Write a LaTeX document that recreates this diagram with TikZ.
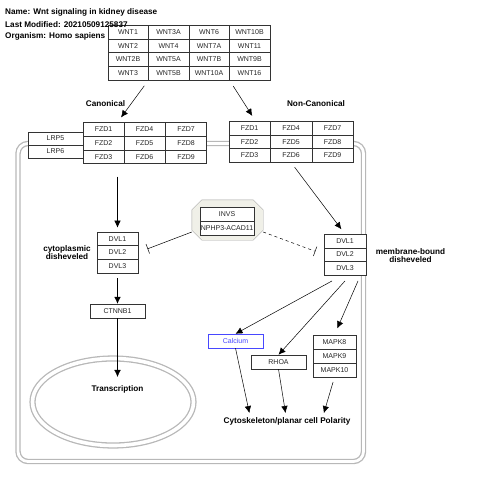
\documentclass[tikz,border=0pt]{standalone}
\usepackage{fontspec}
\setmainfont{Liberation Sans}
\usetikzlibrary{arrows,arrows.meta,shapes,calc}
\definecolor{calciumblue}{RGB}{72,72,255}
\definecolor{octfill}{RGB}{240,240,232}
\tikzstyle{gene}=[draw=black!80,fill=white,text=black!85,font=\fontsize{7}{8}\selectfont,minimum width=41pt,minimum height=13.7pt,inner sep=0pt]
\tikzstyle{boldtext}=[font=\fontsize{8.2}{9.5}\selectfont\bfseries,inner sep=1pt,align=center]
\tikzstyle{pedge}=[draw,line width=0.5pt,-{Latex[length=7pt,width=6.5pt]}]
\tikzstyle{inhibit}=[draw,line width=0.5pt,-{Bar[width=10pt]}]
\tikzstyle{membrane}=[draw=black!28,line width=1.3pt,double=white,double distance=2.8pt]

\begin{document}
\begin{tikzpicture}[x=1pt,y=-1pt]
    \useasboundingbox (0,0) rectangle (480,486);

    % cell and nucleus
    \path[membrane,rounded corners=10pt] (18,143.5) rectangle (363.5,461.5);
    \path[membrane,double distance=3.6pt] (113,402) ellipse (80.5pt and 43.5pt);

    % WNT ligands
    \foreach \pos/ \name in {{(128,31.9)/WNT1},{(168.5,31.9)/WNT3A},{(209,31.9)/WNT6},{(249.5,31.9)/WNT10B},
                             {(128,45.6)/WNT2},{(168.5,45.6)/WNT4},{(209,45.6)/WNT7A},{(249.5,45.6)/WNT11},
                             {(128,59.4)/WNT2B},{(168.5,59.4)/WNT5A},{(209,59.4)/WNT7B},{(249.5,59.4)/WNT9B},
                             {(128,73.1)/WNT3},{(168.5,73.1)/WNT5B},{(209,73.1)/WNT10A},{(249.5,73.1)/WNT16}}
        \node[gene,minimum width=40.5pt,minimum height=13.75pt] (\name) at \pos {\name};

    % receptors, canonical side
    \foreach \pos/ \n in {{(103.5,129.3)/1},{(103.5,143)/2},{(103.5,156.7)/3},
                          {(144.5,129.3)/4},{(144.5,143)/5},{(144.5,156.7)/6},
                          {(186,129.3)/7},{(186,143)/8},{(186,156.7)/9}}
        \node[gene] (cFZD\n) at \pos {FZD\n};
    \foreach \pos/ \name in {{(55.5,138.5)/LRP5},{(55.5,151.5)/LRP6}}
        \node[gene,minimum width=55pt,minimum height=13pt] (\name) at \pos {\name};

    % receptors, non-canonical side
    \foreach \pos/ \n in {{(249.5,128)/1},{(249.5,141.7)/2},{(249.5,155.4)/3},
                          {(291,128)/4},{(291,141.7)/5},{(291,155.4)/6},
                          {(332.5,128)/7},{(332.5,141.7)/8},{(332.5,155.4)/9}}
        \node[gene,minimum width=41.5pt] (rFZD\n) at \pos {FZD\n};

    % disheveled
    \foreach \pos/ \n in {{(117.5,238.7)/1},{(117.5,252.4)/2},{(117.5,266.1)/3}}
        \node[gene] (lDVL\n) at \pos {DVL\n};
    \foreach \pos/ \n in {{(345,241)/1},{(345,254.5)/2},{(345,268)/3}}
        \node[gene,minimum width=42pt,minimum height=13.5pt] (rDVL\n) at \pos {DVL\n};

    % inversin complex
    \node[minimum width=71pt,minimum height=40pt,inner sep=0pt] (octo) at (227.5,220) {};
    \draw[draw=black!35,fill=octfill] ($(octo.north west)+(10,0)$) -- ($(octo.north east)+(-10,0)$)
        -- ($(octo.north east)+(0,10)$) -- ($(octo.south east)+(0,-10)$)
        -- ($(octo.south east)+(-10,0)$) -- ($(octo.south west)+(10,0)$)
        -- ($(octo.south west)+(0,-10)$) -- ($(octo.north west)+(0,10)$) -- cycle;
    \node[gene,minimum width=54pt] (INVS) at (227,214.5) {INVS};
    \node[gene,minimum width=54pt] (NPHP3) at (227,228.2) {NPHP3-ACAD11};

    % downstream
    \node[gene,minimum width=55pt,minimum height=14pt] (CTNNB1) at (117.5,311) {CTNNB1};
    \node[gene,minimum width=55pt,minimum height=14pt,draw=calciumblue,text=calciumblue] (Calcium) at (235.5,341) {Calcium};
    \node[gene,minimum width=55pt,minimum height=14pt] (RHOA) at (278.5,362) {RHOA};
    \foreach \pos/ \n in {{(334.5,342)/8},{(334.5,356)/9},{(334.5,370)/10}}
        \node[gene,minimum width=43pt,minimum height=14pt] (MAPK\n) at \pos {MAPK\n};

    % labels
    \node[boldtext,anchor=west] (name) at (4,12.5) {Name: Wnt signaling in kidney disease};
    \node[boldtext,anchor=west] (modified) at (4,24.5) {Last Modified: 20210509125837};
    \node[boldtext,anchor=west] (organism) at (4,36.5) {Organism: Homo sapiens};
    \node[boldtext] (canon) at (105.5,104) {Canonical};
    \node[boldtext] (noncanon) at (316,104) {Non-Canonical};
    \node[boldtext] (cyto) at (67,252.5) {cytoplasmic\\[-2pt]disheveled};
    \node[boldtext] (memb) at (410.5,255.5) {membrane-bound\\[-2pt]disheveled};
    \node[boldtext] (trans) at (117.5,389) {Transcription};
    \node[boldtext] (cytosk) at (287,421) {Cytoskeleton/planar cell Polarity};

    % Connect the nodes
    \path[pedge,shorten <=7pt,shorten >=6pt] (WNT3.south east) -- (lDVL1 |- cFZD1.north);
    \path[pedge,shorten <=7pt,shorten >=6pt] (WNT10A.south east) -- ($(rFZD1.north)+(6,0)$);
    \path[pedge,shorten <=13pt,shorten >=4pt] (lDVL1 |- cFZD3.south) -- (lDVL1.north);
    \path[pedge,shorten <=6pt,shorten >=6pt] (rFZD6.south) -- (rDVL1.north);
    \path[pedge,shorten <=5pt] (lDVL3.south) -- (CTNNB1.north);
    \path[pedge,shorten >=7pt] (CTNNB1.south) -- (trans.north);

    \path[pedge] ($(rDVL3.south)+(-13,6)$) -- (Calcium.north);
    \path[pedge] ($(rDVL3.south)+(0,6)$) -- (RHOA.north);
    \path[pedge,shorten >=7pt] ($(rDVL3.south)+(13,6)$) -- (MAPK8.north);

    \path[pedge,shorten >=3pt] (Calcium.south) -- ($(cytosk.north)+(-37,0)$);
    \path[pedge,shorten >=3pt] (RHOA.south) -- ($(cytosk.north)+(-1,0)$);
    \path[pedge,shorten <=5pt,shorten >=3pt] (MAPK10.south) -- ($(cytosk.north)+(36,0)$);

    \path[inhibit,shorten >=10pt] ($(octo.west)+(0,12)$) -- (lDVL2.east);
    \path[inhibit,dashed,shorten >=9pt] ($(octo.east)+(0,12)$) -- (rDVL2.west);
\end{tikzpicture}
\end{document}
